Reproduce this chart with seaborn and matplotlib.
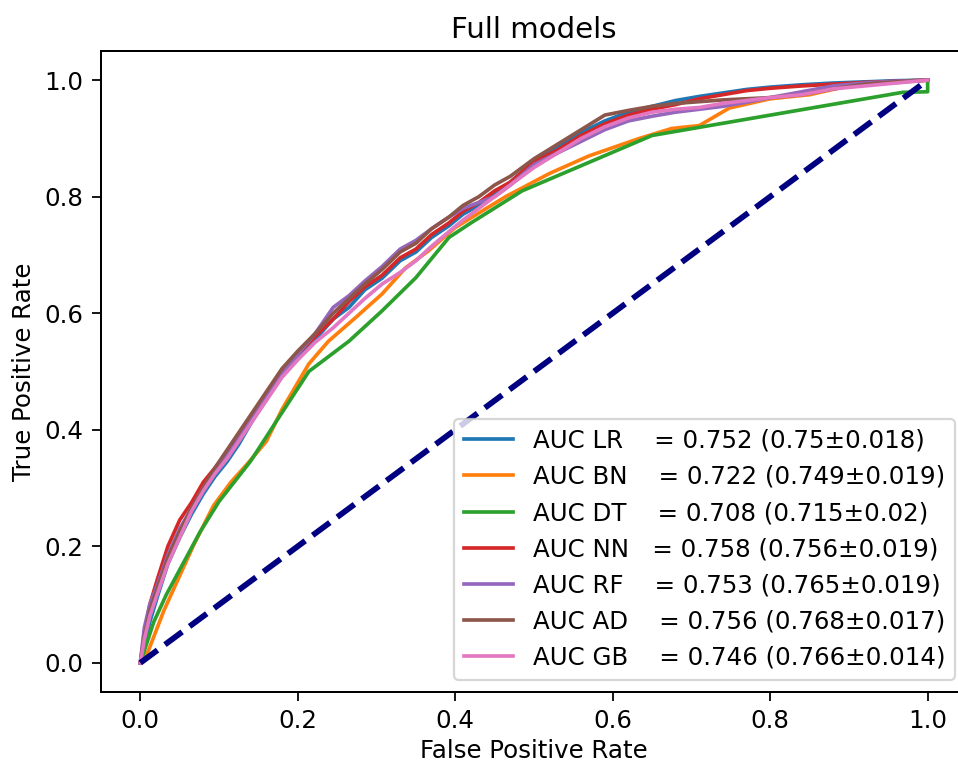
import matplotlib
matplotlib.use("Agg")
import matplotlib.pyplot as plt
import seaborn as sns
import pandas as pd

# ---- data ----
grid_fpr = [0, 0.005, 0.012, 0.022, 0.035, 0.05, 0.065, 0.08, 0.095, 0.11, 0.125, 0.14,
            0.16, 0.18, 0.2, 0.222, 0.245, 0.265, 0.285, 0.307, 0.33, 0.35, 0.37, 0.392,
            0.41, 0.43, 0.45, 0.47, 0.5, 0.53, 0.56, 0.59, 0.62, 0.65, 0.68, 0.71, 0.74,
            0.77, 0.8, 0.84, 0.88, 0.92, 0.96, 1.0]

lr_tpr = [0, 0.03, 0.07, 0.115, 0.17, 0.215, 0.255, 0.29, 0.32, 0.345, 0.375, 0.41,
          0.455, 0.495, 0.525, 0.555, 0.59, 0.61, 0.64, 0.66, 0.69, 0.705, 0.73, 0.75,
          0.77, 0.785, 0.805, 0.825, 0.86, 0.885, 0.91, 0.93, 0.945, 0.955, 0.965, 0.972,
          0.978, 0.984, 0.988, 0.992, 0.995, 0.997, 0.999, 1.0]

nn_tpr = [0, 0.05, 0.10, 0.145, 0.20, 0.245, 0.275, 0.31, 0.335, 0.36, 0.39, 0.42,
          0.46, 0.50, 0.53, 0.56, 0.59, 0.62, 0.645, 0.665, 0.695, 0.71, 0.735, 0.755,
          0.775, 0.79, 0.81, 0.825, 0.86, 0.88, 0.905, 0.925, 0.94, 0.95, 0.958, 0.968,
          0.975, 0.982, 0.986, 0.99, 0.993, 0.996, 0.998, 1.0]

rf_tpr = [0, 0.06, 0.10, 0.135, 0.185, 0.23, 0.265, 0.30, 0.33, 0.355, 0.385, 0.415,
          0.455, 0.495, 0.53, 0.565, 0.61, 0.63, 0.655, 0.68, 0.71, 0.725, 0.745, 0.765,
          0.78, 0.79, 0.80, 0.82, 0.855, 0.875, 0.895, 0.915, 0.93, 0.938, 0.945, 0.95,
          0.955, 0.962, 0.97, 0.98, 0.99, 0.995, 0.998, 1.0]

ad_tpr = [0, 0.045, 0.09, 0.13, 0.18, 0.225, 0.265, 0.30, 0.335, 0.365, 0.395, 0.425,
          0.465, 0.505, 0.535, 0.565, 0.60, 0.625, 0.65, 0.675, 0.705, 0.72, 0.745, 0.765,
          0.785, 0.80, 0.82, 0.835, 0.865, 0.89, 0.915, 0.94, 0.948, 0.955, 0.96, 0.963,
          0.966, 0.968, 0.97, 0.975, 0.985, 0.993, 0.997, 1.0]

gb_tpr = [0, 0.04, 0.08, 0.12, 0.17, 0.215, 0.26, 0.295, 0.325, 0.35, 0.38, 0.41,
          0.45, 0.49, 0.52, 0.55, 0.575, 0.60, 0.625, 0.65, 0.67, 0.69, 0.715, 0.74,
          0.76, 0.78, 0.80, 0.82, 0.85, 0.875, 0.90, 0.92, 0.935, 0.945, 0.95, 0.953,
          0.96, 0.965, 0.97, 0.975, 0.985, 0.99, 0.995, 1.0]

bn_fpr = [0, 0.01, 0.03, 0.067, 0.093, 0.115, 0.135, 0.16, 0.18, 0.214, 0.239, 0.273,
          0.307, 0.337, 0.366, 0.40, 0.43, 0.464, 0.52, 0.57, 0.634, 0.675, 0.71, 0.748,
          0.8, 0.85, 0.9, 0.95, 1.0]
bn_tpr = [0, 0.02, 0.09, 0.20, 0.27, 0.31, 0.34, 0.38, 0.435, 0.513, 0.552, 0.592,
          0.633, 0.678, 0.707, 0.747, 0.772, 0.80, 0.84, 0.87, 0.90, 0.917, 0.922, 0.952,
          0.968, 0.975, 0.99, 0.995, 1.0]

dt_fpr = [0, 0.017, 0.033, 0.076, 0.10, 0.14, 0.173, 0.214, 0.265, 0.307, 0.35, 0.392,
          0.42, 0.485, 0.65, 0.968, 1.0, 1.0]
dt_tpr = [0, 0.07, 0.117, 0.225, 0.277, 0.346, 0.415, 0.50, 0.552, 0.604, 0.661, 0.73,
          0.755, 0.81, 0.905, 0.979, 0.98, 1.0]

labels = ["AUC LR    = 0.752 (0.75\u00b10.018)",
          "AUC BN    = 0.722 (0.749\u00b10.019)",
          "AUC DT    = 0.708 (0.715\u00b10.02)",
          "AUC NN   = 0.758 (0.756\u00b10.019)",
          "AUC RF    = 0.753 (0.765\u00b10.019)",
          "AUC AD    = 0.756 (0.768\u00b10.017)",
          "AUC GB    = 0.746 (0.766\u00b10.014)"]

curves = [(grid_fpr, lr_tpr), (bn_fpr, bn_tpr), (dt_fpr, dt_tpr), (grid_fpr, nn_tpr),
          (grid_fpr, rf_tpr), (grid_fpr, ad_tpr), (grid_fpr, gb_tpr)]

diag = [0, 1]

plt.rcParams.update({
    "font.size": 11,
    "xtick.major.size": 3.9,
    "ytick.major.size": 3.9,
    "xtick.major.pad": 3.9,
    "ytick.major.pad": 3.9,
    "axes.linewidth": 0.9,
})

colors = sns.color_palette("tab10", 7)

fig = plt.figure(figsize=(958 / 160, 762 / 160), dpi=160)
ax = fig.add_axes([0.1054, 0.0919, 0.904, 0.8412])

for (fx, ty), lab, c in zip(curves, labels, colors):
    df = pd.DataFrame({"fpr": fx, "tpr": ty})
    sns.lineplot(data=df, x="fpr", y="tpr", sort=False, estimator=None,
                 color=c, lw=1.65, label=lab, ax=ax)

sns.lineplot(x=diag, y=diag, sort=False, estimator=None, color="navy",
             lw=2.6, linestyle="--", ax=ax)

ax.set_xlim(-0.05, 1.05)
ax.set_ylim(-0.05, 1.05)
ax.set_xticks([0.0, 0.2, 0.4, 0.6, 0.8, 1.0])
ax.set_yticks([0.0, 0.2, 0.4, 0.6, 0.8, 1.0])
ax.set_xlabel("False Positive Rate", labelpad=2.5)
ax.set_ylabel("True Positive Rate")
ax.set_title("Full models")
ax.legend(loc="lower right", handlelength=2.0)

fig.savefig("out.png", dpi=160)
